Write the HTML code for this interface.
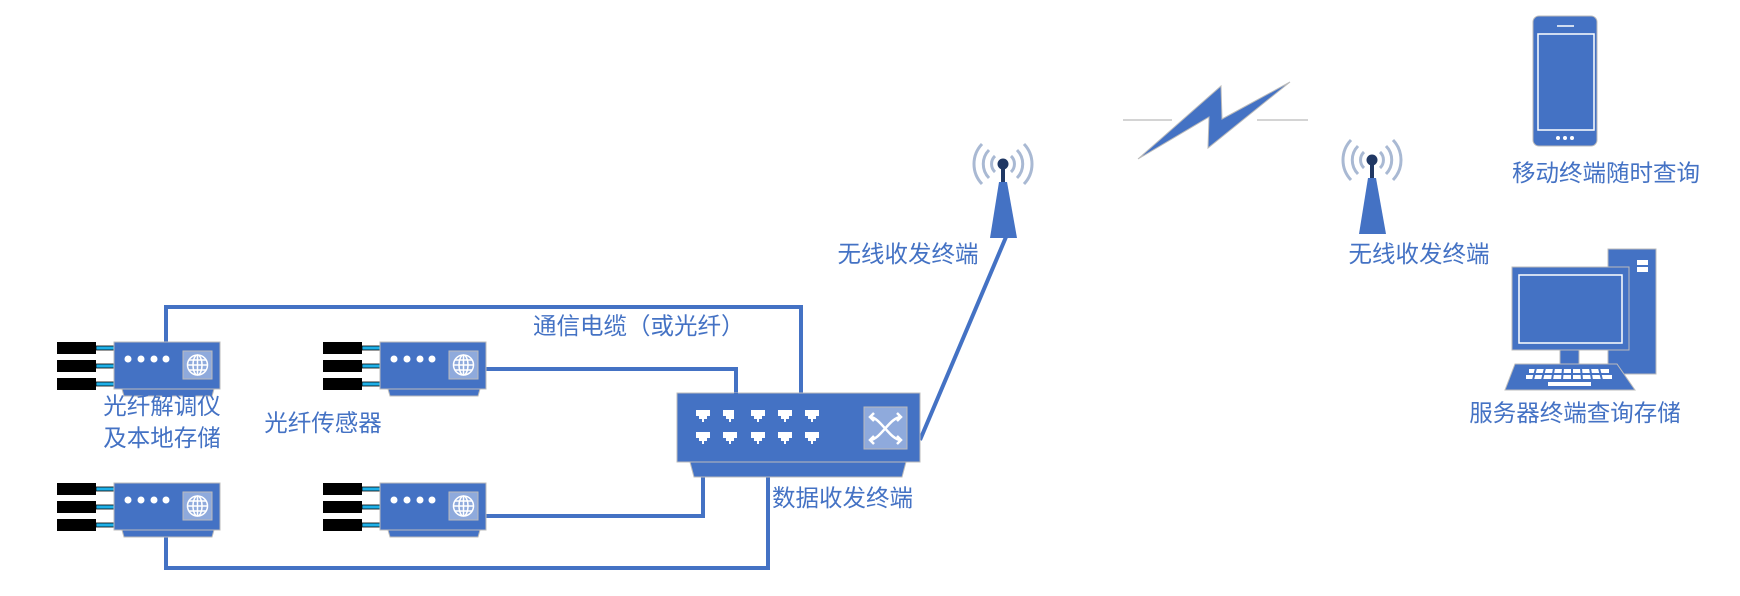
<!DOCTYPE html>
<html><head><meta charset="utf-8"><style>
html,body{margin:0;padding:0;background:#fff;}
svg{display:block;}
text{font-family:"Liberation Sans","Noto Sans CJK SC",sans-serif;font-size:23.5px;fill:#4472C4;}
</style></head><body>
<svg width="1740" height="596" viewBox="0 0 1740 596" xmlns="http://www.w3.org/2000/svg">
<defs>
<g id="dev">
  <rect x="0" y="0" width="39" height="12" fill="#000"/>
  <rect x="0" y="18" width="39" height="12" fill="#000"/>
  <rect x="0" y="36" width="39" height="12" fill="#000"/>
  <rect x="39" y="4" width="18" height="4" fill="#1EB0E8" stroke="#000" stroke-width="0.8"/>
  <rect x="39" y="22" width="18" height="4" fill="#1EB0E8" stroke="#000" stroke-width="0.8"/>
  <rect x="39" y="40" width="18" height="4" fill="#1EB0E8" stroke="#000" stroke-width="0.8"/>
  <polygon points="65,47 157,47 155,54 67,54" fill="#4472C4" stroke="#bbb" stroke-width="1"/>
  <rect x="57" y="0" width="106" height="47" fill="#4472C4" stroke="#bbb" stroke-width="1"/>
  <circle cx="71" cy="17" r="3.5" fill="#fff"/>
  <circle cx="84" cy="17" r="3.5" fill="#fff"/>
  <circle cx="97" cy="17" r="3.5" fill="#fff"/>
  <circle cx="109" cy="17" r="3.5" fill="#fff"/>
  <rect x="126" y="9" width="29" height="28" fill="#8FAADC" stroke="#bbb" stroke-width="1"/>
  <g stroke="#fff" stroke-width="1.5" fill="none">
    <circle cx="140.5" cy="23" r="10"/>
    <ellipse cx="140.5" cy="23" rx="4.5" ry="10"/>
    <line x1="130.5" y1="23" x2="150.5" y2="23"/>
    <line x1="140.5" y1="13" x2="140.5" y2="33"/>
    <line x1="132" y1="18" x2="149" y2="18"/>
    <line x1="132" y1="28" x2="149" y2="28"/>
  </g>
</g>
<g id="ant">
  <g fill="none" stroke="#A9B9D3" stroke-width="3">
    <path d="M-8,-8 A11,11 0 0 0 -8,8"/><path d="M8,-8 A11,11 0 0 1 8,8"/>
    <path d="M-14,-14 A20,20 0 0 0 -14,14"/><path d="M14,-14 A20,20 0 0 1 14,14"/>
    <path d="M-21,-20 A29,29 0 0 0 -21,20"/><path d="M21,-20 A29,29 0 0 1 21,20"/>
  </g>
  <rect x="-2" y="0" width="4" height="18" fill="#203864"/>
  <circle cx="0" cy="0" r="5.5" fill="#203864"/>
  <polygon points="-4,18 4,18 14,74 -13,74" fill="#4472C4"/>
</g>
</defs>

<g stroke="#4472C4" stroke-width="4" fill="none">
  <polyline points="166,342 166,307 801,307 801,394"/>
  <polyline points="486,369 736,369 736,420"/>
  <polyline points="486,516 703,516 703,462"/>
  <polyline points="166,531 166,568 768,568 768,462"/>
  <line x1="920" y1="440" x2="1006" y2="237"/>
</g>

<use href="#dev" x="57" y="342"/>
<use href="#dev" x="323" y="342"/>
<use href="#dev" x="57" y="483"/>
<use href="#dev" x="323" y="483"/>

<polygon points="690,462 906,462 902,477 694,477" fill="#4472C4" stroke="#bbb" stroke-width="1"/>
<rect x="677" y="393" width="243" height="69" fill="#4472C4" stroke="#bbb" stroke-width="1"/>
<g fill="#fff">
  <path id="port" d="M696,410 h14 v6 h-3 v3 h-3 v3 h-2 v-3 h-3 v-3 h-3z"/>
  <use href="#port" x="27"/><use href="#port" x="55"/><use href="#port" x="82"/><use href="#port" x="109"/>
  <use href="#port" y="22"/><use href="#port" x="27" y="22"/><use href="#port" x="55" y="22"/><use href="#port" x="82" y="22"/><use href="#port" x="109" y="22"/>
</g>
<rect x="864" y="407" width="43" height="42" fill="#8FAADC" stroke="#bbb" stroke-width="1"/>
<g stroke="#fff" stroke-width="2.5" fill="none">
  <path d="M870,417 C880,417 890,440 901,440"/>
  <path d="M870,440 C880,440 890,417 901,417"/>
  <path d="M874,413 l-4,4 l4,4"/><path d="M874,436 l-4,4 l4,4"/>
  <path d="M897,413 l4,4 l-4,4"/><path d="M897,436 l4,4 l-4,4"/>
</g>
<line x1="736" y1="393" x2="736" y2="420" stroke="#4472C4" stroke-width="4"/>

<use href="#ant" x="1003" y="164"/>
<use href="#ant" x="1372" y="160"/>

<line x1="1123" y1="120" x2="1172" y2="120" stroke="#bbb" stroke-width="1.2"/>
<line x1="1257" y1="120" x2="1308" y2="120" stroke="#bbb" stroke-width="1.2"/>
<polygon points="1138,159 1221,86 1222,119 1290,82 1208,148 1209,117" fill="#4472C4" stroke="#bbb" stroke-width="1"/>

<rect x="1533" y="16" width="64" height="130" rx="6" fill="#4472C4" stroke="#bbb" stroke-width="1"/>
<rect x="1538" y="34" width="56" height="96" fill="none" stroke="#fff" stroke-width="1.5"/>
<line x1="1557" y1="26" x2="1574" y2="26" stroke="#fff" stroke-width="1.5"/>
<circle cx="1558" cy="138" r="2" fill="#fff"/><circle cx="1565" cy="138" r="2" fill="#fff"/><circle cx="1572" cy="138" r="2" fill="#fff"/>

<rect x="1608" y="249" width="48" height="125" fill="#4472C4" stroke="#bbb" stroke-width="1"/>
<rect x="1637" y="260" width="11" height="5" fill="#fff"/>
<rect x="1637" y="267" width="11" height="5" fill="#fff"/>
<rect x="1560" y="350" width="19" height="16" fill="#4472C4" stroke="#bbb" stroke-width="1"/>
<rect x="1512" y="267" width="117" height="83" fill="#4472C4" stroke="#bbb" stroke-width="1"/>
<rect x="1519" y="275" width="103" height="68" fill="none" stroke="#fff" stroke-width="1.5"/>
<polygon points="1515,364 1617,364 1635,390 1505,390" fill="#4472C4" stroke="#bbb" stroke-width="1"/>
<g fill="#fff">
  <rect x="1529" y="369" width="80" height="4"/>
  <rect x="1526" y="375" width="86" height="4"/>
  <rect x="1548" y="382" width="43" height="4"/>
</g>
<g stroke="#4472C4" stroke-width="2">
  <line x1="1536" y1="368" x2="1533" y2="380"/><line x1="1545" y1="368" x2="1542" y2="380"/>
  <line x1="1554" y1="368" x2="1552" y2="380"/><line x1="1563" y1="368" x2="1562" y2="380"/>
  <line x1="1572" y1="368" x2="1572" y2="380"/><line x1="1581" y1="368" x2="1582" y2="380"/>
  <line x1="1590" y1="368" x2="1592" y2="380"/><line x1="1599" y1="368" x2="1602" y2="380"/>
</g>

<text x="162" y="414" text-anchor="middle">光纤解调仪</text>
<text x="162" y="446" text-anchor="middle">及本地存储</text>
<text x="323" y="431" text-anchor="middle">光纤传感器</text>
<text x="533" y="334">通信电缆（或光纤）</text>
<text x="772" y="506">数据收发终端</text>
<text x="908" y="262" text-anchor="middle">无线收发终端</text>
<text x="1419" y="262" text-anchor="middle">无线收发终端</text>
<text x="1606" y="181" text-anchor="middle">移动终端随时查询</text>
<text x="1575" y="421" text-anchor="middle">服务器终端查询存储</text>
</svg>
</body></html>
